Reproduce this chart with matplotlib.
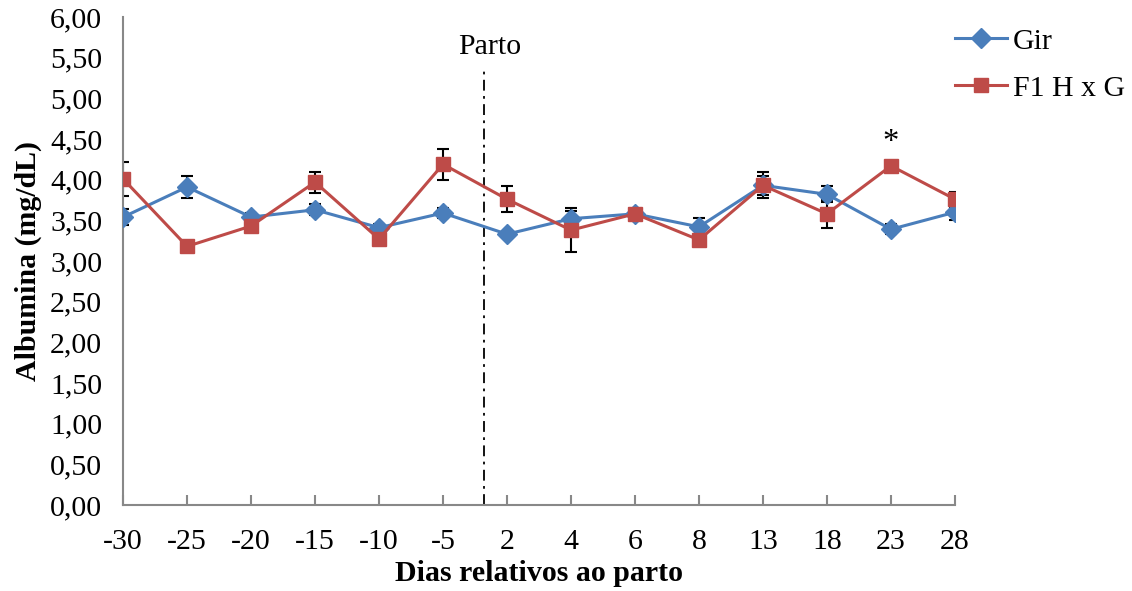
import numpy as np
import matplotlib
matplotlib.use("Agg")
from matplotlib import pyplot as plt

plt.rcParams['font.family'] = ['Liberation Serif', 'DejaVu Serif']

# Days relative to calving (categorical axis)
dias = ["-30", "-25", "-20", "-15", "-10", "-5", "2", "4", "6", "8", "13", "18", "23", "28"]

# Albumin means and standard errors
gir = [3.54, 3.91, 3.54, 3.63, 3.41, 3.59, 3.33, 3.52, 3.58, 3.42, 3.93, 3.82, 3.39, 3.60]
gir_err = [0.10, 0.13, 0.05, 0.07, 0.04, 0.06, 0.03, 0.10, 0.05, 0.11, 0.12, 0.10, 0.06, 0.10]
f1 = [4.01, 3.18, 3.43, 3.97, 3.27, 4.19, 3.76, 3.38, 3.58, 3.26, 3.93, 3.58, 4.17, 3.76]
f1_err = [0.21, 0.02, 0.05, 0.13, 0.03, 0.19, 0.16, 0.27, 0.06, 0.02, 0.16, 0.17, 0.04, 0.09]

x = np.arange(len(dias))
fs = 21.5

fig = plt.figure(figsize=(11.32, 5.91), dpi=100)
ax = fig.add_axes([0.1087, 0.1455, 0.7349, 0.8257])

blue = "#4a7ebb"
red = "#be4b48"

ax.errorbar(x, gir, yerr=gir_err, fmt='none', ecolor='black', elinewidth=1.5,
            capsize=4, capthick=1.5, zorder=2)
ax.errorbar(x, f1, yerr=f1_err, fmt='none', ecolor='black', elinewidth=1.5,
            capsize=4, capthick=1.5, zorder=2)
ax.plot(x, gir, color=blue, lw=2.2, marker='D', ms=10, mfc=blue, mec=blue,
        label="Gir", zorder=3)
ax.plot(x, f1, color=red, lw=2.2, marker='s', ms=10, mfc=red, mec=red,
        label="F1 H x G", zorder=4)

# calving line
parto_pos = 5.64
ax.axvline(parto_pos, ymin=0, ymax=0.891, color='black', lw=1.3,
           linestyle=(0, (6, 3, 1.5, 3)))
ax.text(parto_pos + 0.09, 5.63, "Parto", ha='center', va='center', fontsize=fs)
ax.text(12, 4.45, "*", ha='center', va='center', fontsize=fs + 2)

ax.set_xlim(0, 13)
ax.set_ylim(0, 6)
yt = np.arange(0, 6.01, 0.5)
ax.set_yticks(yt)
ax.set_yticklabels([f"{v:.2f}".replace('.', ',') for v in yt])
ax.set_xticks(x)
ax.set_xticklabels(dias)
ax.tick_params(axis='y', length=0, labelsize=fs, pad=15)
ax.tick_params(axis='x', direction='in', length=7, width=1.5, color='#888888',
               labelsize=fs, pad=17)

for s in ['top', 'right']:
    ax.spines[s].set_visible(False)
for s in ['left', 'bottom']:
    ax.spines[s].set_color('#888888')
    ax.spines[s].set_linewidth(1.5)

ax.set_ylabel("Albumina (mg/dL)", fontsize=fs, fontweight='bold', labelpad=6)
ax.set_xlabel("Dias relativos ao parto", fontsize=fs, fontweight='bold', labelpad=4)

fig.legend(loc='upper left', bbox_to_anchor=(0.8436, 0.953), frameon=False,
           fontsize=fs, handlelength=1.75, labelspacing=0.67, handletextpad=0.2,
           borderaxespad=0, borderpad=0)

fig.savefig("out.png", dpi=100)
